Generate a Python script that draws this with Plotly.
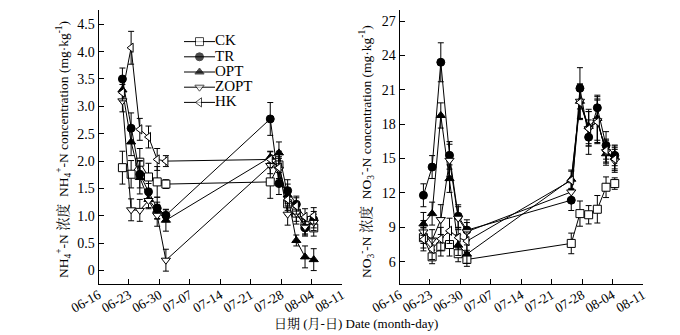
import pandas as pd
import plotly.graph_objects as go
from plotly.subplots import make_subplots

YEAR = "2019"
SAMPLE_DATES = ["06-21", "06-23", "06-25", "06-27", "06-29", "07-01",
                "07-25", "07-27", "07-29", "07-31", "08-02", "08-04"]
SERIES = ["CK", "TR", "OPT", "ZOPT", "HK"]

# NH4+-N concentration (mg/kg)
NH4_CK = [1.88, 1.76, 1.98, 1.71, 1.62, 1.58, 1.62, 1.93, 1.22, 1.05, 0.82, 0.78]
NH4_TR = [3.50, 2.60, 1.76, 1.44, 1.14, 1.01, 2.77, 1.59, 1.46, 1.21, 0.78, 0.93]
NH4_OPT = [3.30, 2.35, 1.70, 1.30, 1.10, 0.92, 2.07, 2.15, 1.38, 0.55, 0.25, 0.20]
NH4_ZOPT = [3.10, 1.11, 1.10, 1.28, 1.01, 0.19, 1.92, 1.85, 1.03, 1.05, 0.80, 0.88]
NH4_HK = [3.25, 4.07, 2.58, 2.44, 2.03, 2.00, 2.03, 1.88, 1.30, 1.18, 0.98, 1.00]
NH4_CK_ERR = [0.30, 0.25, 0.25, 0.25, 0.28, 0.08, 0.30, 0.25, 0.20, 0.20, 0.15, 0.15]
NH4_TR_ERR = [0.20, 0.28, 0.25, 0.15, 0.20, 0.10, 0.30, 0.20, 0.20, 0.15, 0.15, 0.15]
NH4_OPT_ERR = [0.20, 0.25, 0.30, 0.15, 0.15, 0.20, 0.10, 0.20, 0.20, 0.10, 0.20, 0.20]
NH4_ZOPT_ERR = [0.20, 0.20, 0.20, 0.15, 0.20, 0.20, 0.15, 0.20, 0.20, 0.15, 0.15, 0.15]
NH4_HK_ERR = [0.15, 0.30, 0.20, 0.20, 0.20, 0.10, 0.15, 0.20, 0.20, 0.15, 0.15, 0.15]

# NO3--N concentration (mg/kg)
NO3_CK = [8.10, 6.43, 7.30, 7.50, 6.70, 6.20, 7.60, 10.20, 10.10, 10.58, 12.50, 12.82]
NO3_TR = [11.80, 14.26, 23.40, 15.28, 9.97, 8.76, 11.37, 21.13, 16.87, 19.43, 16.15, 15.28]
NO3_OPT = [9.30, 10.20, 18.76, 13.25, 7.45, 6.67, 13.20, 20.00, 17.80, 18.50, 15.42, 15.10]
NO3_ZOPT = [8.60, 7.90, 9.68, 14.85, 9.80, 8.62, 12.09, 20.00, 17.60, 18.30, 15.60, 14.80]
NO3_HK = [7.95, 7.10, 8.00, 8.70, 8.10, 7.80, 13.10, 19.90, 17.60, 18.20, 15.70, 14.95]
NO3_CK_ERR = [0.9, 0.6, 0.8, 1.0, 0.7, 0.6, 0.9, 1.1, 0.8, 1.2, 0.9, 0.5]
NO3_TR_ERR = [1.0, 1.0, 1.7, 1.2, 1.0, 0.9, 0.9, 1.8, 1.5, 1.1, 1.2, 0.9]
NO3_OPT_ERR = [1.0, 1.0, 1.1, 1.2, 0.9, 0.8, 0.8, 1.5, 1.5, 1.9, 1.0, 1.0]
NO3_ZOPT_ERR = [1.0, 0.9, 1.3, 1.4, 1.0, 0.8, 0.8, 1.5, 1.5, 1.9, 1.0, 1.0]
NO3_HK_ERR = [1.0, 0.9, 1.0, 1.1, 0.9, 0.8, 0.8, 1.5, 1.5, 1.9, 1.0, 1.0]

NH4_TICKS = [0, 0.5, 1.0, 1.5, 2.0, 2.5, 3.0, 3.5, 4.0, 4.5]
NH4_TICKTEXT = ["0", "0.5", "1.0", "1.5", "2.0", "2.5", "3.0", "3.5", "4.0", "4.5"]
NO3_TICKS = [6, 9, 12, 15, 18, 21, 24, 27]
X_START, X_END = "06-16", "08-11"

x = pd.to_datetime([f"{YEAR}-{d}" for d in SAMPLE_DATES]) + pd.Timedelta(hours=12)

STYLE = {
    "CK": dict(symbol="square", color="white"),
    "TR": dict(symbol="circle", color="black"),
    "OPT": dict(symbol="triangle-up", color="black"),
    "ZOPT": dict(symbol="triangle-down", color="white"),
    "HK": dict(symbol="triangle-left", color="white"),
}
NH4 = {"CK": (NH4_CK, NH4_CK_ERR), "TR": (NH4_TR, NH4_TR_ERR), "OPT": (NH4_OPT, NH4_OPT_ERR),
       "ZOPT": (NH4_ZOPT, NH4_ZOPT_ERR), "HK": (NH4_HK, NH4_HK_ERR)}
NO3 = {"CK": (NO3_CK, NO3_CK_ERR), "TR": (NO3_TR, NO3_TR_ERR), "OPT": (NO3_OPT, NO3_OPT_ERR),
       "ZOPT": (NO3_ZOPT, NO3_ZOPT_ERR), "HK": (NO3_HK, NO3_HK_ERR)}

FONT = "Liberation Serif, Times New Roman, Noto Serif CJK SC, Noto Sans CJK SC, serif"

fig = make_subplots(rows=1, cols=2)
for col, data in ((1, NH4), (2, NO3)):
    for name in SERIES:
        vals, err = data[name]
        st = STYLE[name]
        fig.add_trace(go.Scatter(
            x=x, y=vals, name=name, mode="lines+markers", showlegend=False,
            line=dict(color="black", width=1),
            marker=dict(symbol=st["symbol"], size=8, color=st["color"],
                        line=dict(color="black", width=1)),
            error_y=dict(type="data", array=err, visible=True, color="black",
                         thickness=1, width=3),
        ), row=1, col=col)

# legend keys drawn on a hidden overlay axis pair (one row per series)
for i, name in enumerate(SERIES):
    st = STYLE[name]
    fig.add_trace(go.Scatter(
        x=[0, 0.5, 1], y=[i, i, i], mode="lines+markers+text",
        text=["", "", name], textposition="middle right",
        textfont=dict(family=FONT, size=15, color="black"),
        line=dict(color="black", width=1),
        marker=dict(symbol=st["symbol"], size=[0, 8, 0], color=st["color"],
                    line=dict(color="black", width=1)),
        showlegend=False, hoverinfo="skip", xaxis="x3", yaxis="y3", cliponaxis=False,
    ))

W, H = 680, 335
def fx(px):
    return px / W
def fy(py):
    return (H - py) / H

xaxis_common = dict(
    type="date", range=[f"{YEAR}-{X_START}", f"{YEAR}-{X_END}"],
    tick0=f"{YEAR}-{X_START}", dtick=7 * 24 * 3600 * 1000, tickformat="%m-%d",
    tickangle=-30, ticks="inside", ticklen=5, tickcolor="black",
    showline=True, linecolor="black", linewidth=1, showgrid=False, zeroline=False,
    tickfont=dict(family=FONT, size=13.5, color="black"), automargin=False,
    ticklabelstandoff=-3,
)
yaxis_common = dict(
    ticks="inside", ticklen=5, tickcolor="black",
    showline=True, linecolor="black", linewidth=1, showgrid=False, zeroline=False,
    tickfont=dict(family=FONT, size=14, color="black"), automargin=False,
)
fig.update_xaxes(**xaxis_common)
fig.update_yaxes(**yaxis_common)
fig.update_layout(
    xaxis=dict(domain=[fx(98.5), fx(342)]),
    xaxis2=dict(domain=[fx(399.5), fx(643)]),
    yaxis=dict(domain=[fy(284), fy(10)], range=[-0.245, 4.76],
               tickvals=NH4_TICKS, ticktext=NH4_TICKTEXT),
    yaxis2=dict(domain=[fy(284), fy(10)], range=[4.06, 27.96], tickvals=NO3_TICKS),
    xaxis3=dict(domain=[fx(184), fx(215)], range=[0, 1], visible=False, fixedrange=True),
    yaxis3=dict(domain=[fy(110), fy(34)], range=[4.5, -0.5], visible=False, fixedrange=True),
)

fig.add_annotation(
    text="NH<sub>4</sub><sup>+</sup>-N 浓度  NH<sub>4</sub><sup>+</sup>-N concentration (mg·kg<sup>-1</sup>)",
    xref="paper", yref="paper", x=fx(63), y=fy(150), textangle=-90, showarrow=False,
    font=dict(family=FONT, size=13.5, color="black"), xanchor="center", yanchor="middle")
fig.add_annotation(
    text="NO<sub>3</sub><sup>-</sup>-N 浓度  NO<sub>3</sub><sup>-</sup>-N concentration (mg·kg<sup>-1</sup>)",
    xref="paper", yref="paper", x=fx(366), y=fy(152), textangle=-90, showarrow=False,
    font=dict(family=FONT, size=13.5, color="black"), xanchor="center", yanchor="middle")
fig.add_annotation(
    text="日期 (月-日) Date (month-day)",
    xref="paper", yref="paper", x=fx(356), y=fy(323), showarrow=False,
    font=dict(family=FONT, size=13, color="black"), xanchor="center", yanchor="middle")

fig.update_layout(
    width=W, height=H, margin=dict(l=0, r=0, t=0, b=0),
    paper_bgcolor="white", plot_bgcolor="white",
    font=dict(family=FONT, size=14, color="black"),
    showlegend=False,
)

fig.write_html("out.html")
